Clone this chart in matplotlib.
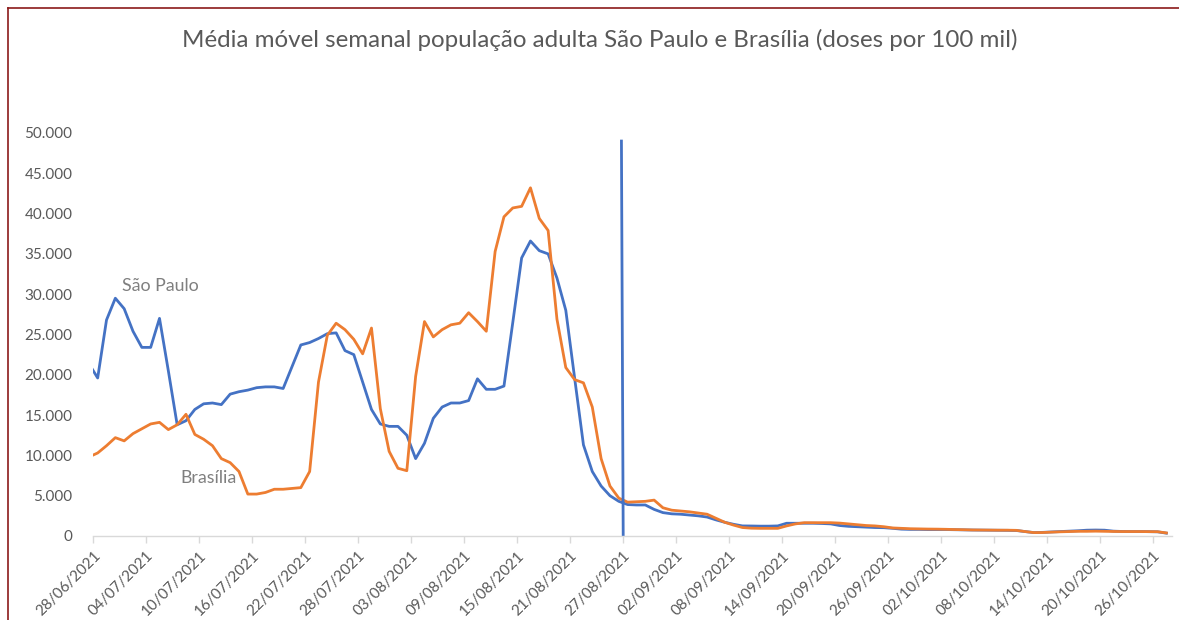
import numpy as np
import pandas as pd
import matplotlib
matplotlib.use('Agg')
import matplotlib.pyplot as plt
from matplotlib.lines import Line2D
from matplotlib.ticker import FuncFormatter, MultipleLocator

plt.rcParams['font.family'] = ['Lato', 'DejaVu Sans']

# daily values, doses per 100 mil (in thousands), 27/06/2021 .. 27/10/2021
dates = pd.date_range('2021-06-27', '2021-10-27', freq='D')

sao_paulo = [
    21.4, 19.6, 26.8, 29.5, 28.2, 25.4, 23.4, 23.4, 27.0, 20.5,
    13.8, 14.3, 15.7, 16.4, 16.5, 16.3, 17.6, 17.9, 18.1, 18.4,
    18.5, 18.5, 18.3, 21.0, 23.7, 24.0, 24.5, 25.1, 25.2, 23.0,
    22.5, 19.1, 15.7, 13.9, 13.6, 13.6, 12.5, 9.6, 11.5, 14.6,
    16.0, 16.5, 16.5, 16.8, 19.5, 18.2, 18.2, 18.6, 26.5, 34.5,
    36.6, 35.4, 35.0, 32.0, 28.0, 19.6, 11.3, 8.0, 6.2, 5.0,
    4.3, 3.9, 3.85, 3.85, 3.3, 2.9, 2.75, 2.7, 2.6, 2.5,
    2.35, 2.0, 1.7, 1.45, 1.25, 1.24, 1.22, 1.22, 1.25, 1.58,
    1.58, 1.58, 1.58, 1.55, 1.5, 1.3, 1.2, 1.15, 1.1, 1.05,
    1.03, 0.95, 0.85, 0.82, 0.82, 0.8, 0.8, 0.8, 0.78, 0.76,
    0.74, 0.73, 0.72, 0.71, 0.7, 0.68, 0.55, 0.42, 0.45, 0.5,
    0.55, 0.6, 0.65, 0.72, 0.74, 0.72, 0.6, 0.56, 0.55, 0.55,
    0.54, 0.52, 0.35,
]

brasilia = [
    9.8, 10.3, 11.2, 12.2, 11.8, 12.7, 13.3, 13.9, 14.1, 13.2,
    13.8, 15.1, 12.6, 12.0, 11.2, 9.6, 9.1, 8.0, 5.2, 5.2,
    5.4, 5.8, 5.8, 5.9, 6.0, 8.0, 19.1, 24.9, 26.4, 25.6,
    24.4, 22.6, 25.8, 15.8, 10.5, 8.4, 8.1, 19.8, 26.6, 24.7,
    25.6, 26.2, 26.4, 27.7, 26.6, 25.4, 35.3, 39.6, 40.7, 40.9,
    43.2, 39.4, 37.9, 26.9, 20.9, 19.4, 19.0, 16.0, 9.6, 6.2,
    4.7, 4.2, 4.25, 4.3, 4.45, 3.5, 3.2, 3.1, 3.0, 2.85,
    2.7, 2.2, 1.7, 1.35, 1.05, 0.97, 0.95, 0.95, 0.95, 1.25,
    1.5, 1.65, 1.65, 1.65, 1.65, 1.6, 1.5, 1.4, 1.3, 1.25,
    1.15, 1.0, 0.95, 0.9, 0.88, 0.86, 0.85, 0.83, 0.8, 0.78,
    0.75, 0.74, 0.73, 0.72, 0.72, 0.7, 0.55, 0.42, 0.43, 0.48,
    0.52, 0.55, 0.58, 0.58, 0.6, 0.58, 0.56, 0.55, 0.55, 0.55,
    0.54, 0.53, 0.38,
]

tick_labels = [
    '28/06/2021', '04/07/2021', '10/07/2021', '16/07/2021', '22/07/2021',
    '28/07/2021', '03/08/2021', '09/08/2021', '15/08/2021', '21/08/2021',
    '27/08/2021', '02/09/2021', '08/09/2021', '14/09/2021', '20/09/2021',
    '26/09/2021', '02/10/2021', '08/10/2021', '14/10/2021', '20/10/2021',
    '26/10/2021',
]

marker_date = pd.Timestamp('2021-08-27')
marker_top = 49000

blue = '#4472C4'
orange = '#ED7D31'

sp = np.array(sao_paulo) * 1000
bsb = np.array(brasilia) * 1000

# x in days from 28/06, points sit in the middle of each day
start = pd.Timestamp('2021-06-28')
x = (dates - start).days.values + 0.5
tick_x = [(pd.Timestamp(d[6:] + '-' + d[3:5] + '-' + d[:2]) - start).days for d in tick_labels]
marker_x = (marker_date - start).days

fig = plt.figure(figsize=(11.79, 6.20), dpi=100)
ax = fig.add_axes([0.0791, 0.1355, 0.9147, 0.65])

ax.plot(x, sp, color=blue, lw=2.0, solid_joinstyle='round')
ax.plot(x, bsb, color=orange, lw=2.0, solid_joinstyle='round')
ax.plot([marker_x - 0.2, marker_x], [marker_top, 0], color=blue, lw=2.0)

ax.set_xlim(0, 122.1)
ax.set_ylim(0, 50000)

ax.yaxis.set_major_locator(MultipleLocator(5000))
ax.yaxis.set_major_formatter(FuncFormatter(lambda v, p: f'{v:,.0f}'.replace(',', '.')))
ax.tick_params(axis='y', length=0, pad=15, labelsize=11, labelcolor='#595959')

ax.set_xticks(tick_x)
ax.set_xticklabels(tick_labels, rotation=45, ha='right', va='top',
                   rotation_mode='anchor')
ax.tick_params(axis='x', length=5, width=1, color='#D9D9D9', pad=4,
               labelsize=11, labelcolor='#595959')

for side in ['left', 'right', 'top']:
    ax.spines[side].set_visible(False)
ax.spines['bottom'].set_color('#D9D9D9')
ax.spines['bottom'].set_linewidth(1)

ax.text(7.6, 31000, 'São Paulo', color='#7F7F7F', fontsize=12.8,
        ha='center', va='center')
ax.text(13.0, 7200, 'Brasília', color='#7F7F7F', fontsize=12.8,
        ha='center', va='center')

fig.text(0.509, 0.935, 'Média móvel semanal população adulta São Paulo e Brasília (doses por 100 mil)',
         ha='center', va='center', fontsize=17.4, color='#595959')

# chart frame
fig.add_artist(Line2D([0.007, 0.007], [0, 0.9866], color='#8B1A1A', lw=1.2))
fig.add_artist(Line2D([0.007, 1], [0.9866, 0.9866], color='#8B1A1A', lw=1.2))

fig.savefig('out.png', dpi=100)
